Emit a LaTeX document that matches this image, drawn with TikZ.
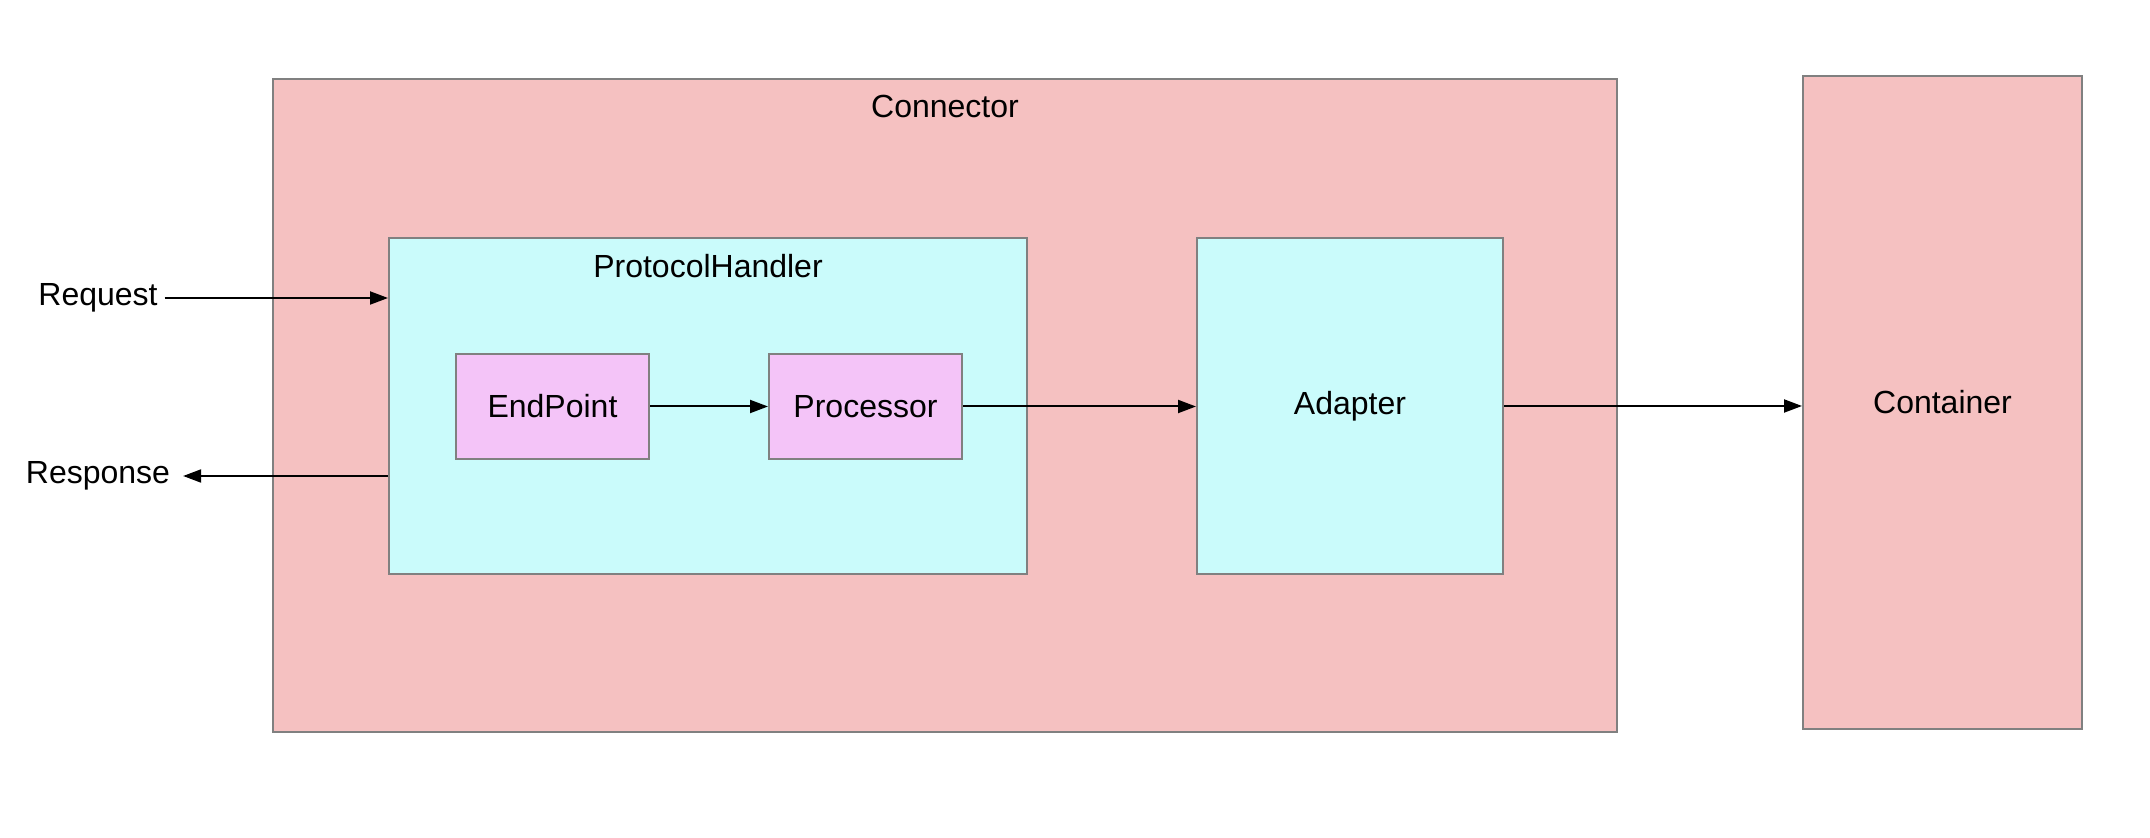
\documentclass[tikz,border=0pt]{standalone}
\usepackage{fontspec}
\setmainfont{Liberation Sans}
\usepackage{tikz}
\usetikzlibrary{positioning}
\usetikzlibrary{arrows.meta}

\definecolor{boxpink}{RGB}{245,193,193}
\definecolor{boxcyan}{RGB}{202,251,251}
\definecolor{boxviolet}{RGB}{244,196,248}
\definecolor{boxline}{RGB}{128,128,128}

\tikzset{
  box/.style={draw=boxline, line width=1pt, fill=#1, inner sep=0pt},
  flow/.style={-{Triangle[length=9pt,width=6.5pt]}, line width=1pt},
}

\begin{document}
\begin{tikzpicture}[x=0.5pt, y=-0.5pt, font=\fontsize{16}{19}\selectfont]
    \useasboundingbox (0,0) rectangle (2150,838);
    % outer blocks
    \node[box=boxpink, minimum width=672pt, minimum height=326.5pt,
          label={[anchor=center, yshift=-14pt]north:Connector}] (connector) at (945,405.5) {};
    \node[box=boxpink, minimum width=139.5pt, minimum height=326.5pt] (container) at (1942.5,402.5) {Container};
    % inside the connector
    \node[box=boxcyan, minimum width=319pt, minimum height=168pt,
          label={[anchor=center, yshift=-14.5pt]north:ProtocolHandler}] (handler) at (708,406) {};
    \node[box=boxcyan, minimum width=153pt, minimum height=168pt] (adapter) at (1350,406) {Adapter};
    \node[box=boxviolet, minimum width=96.5pt, minimum height=52.5pt] (endpoint) at (552.5,406.5) {EndPoint};
    \node[box=boxviolet, minimum width=96.5pt, minimum height=52.5pt, right=59pt of endpoint] (processor) {Processor};
    % outside texts
    \node (request) at (98,298) {Request};
    \node (response) at (98,476) {Response};

    \draw[flow] (request.east) -- (request.east -| handler.west);
    \draw[flow, shorten >=3pt] (response.east -| handler.west) -- (response.east);
    \draw[flow] (endpoint) -- (processor);
    \draw[flow] (processor.east) -- (processor.east -| adapter.west);
    \draw[flow] (adapter.east) -- (adapter.east -| container.west);
\end{tikzpicture}
\end{document}
